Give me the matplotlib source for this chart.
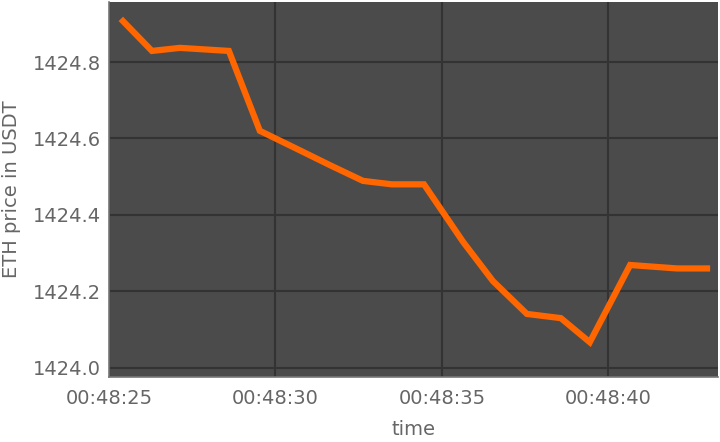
"""
ETH/USDT price ticks over a short window.
Saves out.png
"""

import pandas as pd
import matplotlib
matplotlib.use("Agg")
import matplotlib.pyplot as plt
import matplotlib.dates as mdates

TIMES = [
    "00:48:25.42", "00:48:26.29", "00:48:27.13", "00:48:28.60", "00:48:29.53",
    "00:48:30.59", "00:48:31.64", "00:48:32.63", "00:48:33.50", "00:48:34.46",
    "00:48:35.63", "00:48:36.53", "00:48:37.55", "00:48:38.57", "00:48:39.44",
    "00:48:40.65", "00:48:42.06", "00:48:42.96",
]
PRICES = [
    1424.907, 1424.829, 1424.837, 1424.829, 1424.620,
    1424.575, 1424.530, 1424.489, 1424.480, 1424.480,
    1424.330, 1424.227, 1424.141, 1424.130, 1424.067,
    1424.269, 1424.260, 1424.260,
]
X_RANGE = ["00:48:25.00", "00:48:43.29"]
Y_RANGE = (1423.976, 1424.957)

BG_COLOR   = "#4b4b4b"
GRID_COLOR = "#333333"
LINE_COLOR = "#ff6600"
TEXT_COLOR = "#666666"


def to_dt(values):
    return pd.to_datetime(["2023-01-01 " + v for v in values])


def main():
    t = to_dt(TIMES)
    xlim = to_dt(X_RANGE)

    fig = plt.figure(figsize=(7.2, 4.42), dpi=100)
    ax = fig.add_axes([109 / 720, 65 / 442, 609 / 720, 375 / 442])
    ax.set_facecolor(BG_COLOR)

    ax.plot(t, PRICES, color=LINE_COLOR, linewidth=4.5, solid_joinstyle="miter")

    ax.set_xlim(xlim[0], xlim[1])
    ax.set_ylim(*Y_RANGE)
    ax.xaxis.set_major_locator(mdates.SecondLocator(bysecond=range(0, 60, 5)))
    ax.xaxis.set_major_formatter(mdates.DateFormatter("%H:%M:%S"))
    ax.set_yticks([1424.0, 1424.2, 1424.4, 1424.6, 1424.8])
    ax.yaxis.set_major_formatter(matplotlib.ticker.FormatStrFormatter("%.1f"))

    ax.grid(True, color=GRID_COLOR, linewidth=1.5)
    ax.set_axisbelow(True)
    ax.tick_params(length=0, labelsize=14, labelcolor=TEXT_COLOR)
    ax.tick_params(axis="x", pad=9)
    ax.tick_params(axis="y", pad=6)

    for side in ["top", "right"]:
        ax.spines[side].set_visible(False)
    for side in ["left", "bottom"]:
        ax.spines[side].set_color("#777777")
        ax.spines[side].set_linewidth(1.2)

    ax.set_xlabel("time", fontsize=14, color=TEXT_COLOR, labelpad=8)
    ax.set_ylabel("ETH price in USDT", fontsize=14, color=TEXT_COLOR, labelpad=8)

    fig.savefig("out.png", dpi=100)


if __name__ == "__main__":
    main()
